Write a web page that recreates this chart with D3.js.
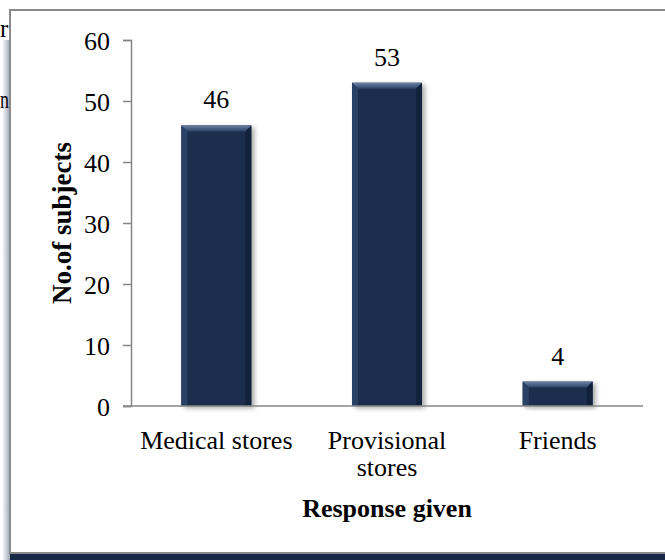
<!DOCTYPE html>
<html>
<head>
<meta charset="utf-8">
<script src="https://cdn.jsdelivr.net/npm/d3@7"></script>
<style>
  html, body { margin: 0; padding: 0; background: #fff; }
  svg { display: block; }
  text { font-family: "Liberation Serif", "Times New Roman", serif; fill: #000; }
</style>
</head>
<body>
<svg id="chart" width="665" height="560"></svg>
<script>
// Where subjects obtained the product
const categories = [["Medical stores"], ["Provisional", "stores"], ["Friends"]];
const counts = [46, 53, 4];
const yTicks = [0, 10, 20, 30, 40, 50, 60];
const yTitle = "No.of subjects";
const xTitle = "Response given";

const svg = d3.select("#chart");

const plot = { left: 131, right: 643, top: 40, bottom: 406 };

const x = d3.scaleBand()
  .domain(d3.range(categories.length))
  .range([plot.left, plot.right])
  .padding(0);
const barW = x.bandwidth() * 0.41;

const y = d3.scaleLinear().domain([0, 60]).range([plot.bottom, plot.top]);

const defs = svg.append("defs");
const sh = defs.append("filter").attr("id", "barShadow")
  .attr("x", "-20%").attr("y", "-10%").attr("width", "150%").attr("height", "130%");
sh.append("feDropShadow").attr("dx", 3).attr("dy", 2).attr("stdDeviation", 2.5)
  .attr("flood-color", "#000").attr("flood-opacity", 0.35);

const frameShadow = defs.append("linearGradient").attr("id", "leftShade")
  .attr("x1", 0).attr("x2", 1).attr("y1", 0).attr("y2", 0);
frameShadow.append("stop").attr("offset", 0).attr("stop-color", "#ffffff");
frameShadow.append("stop").attr("offset", 1).attr("stop-color", "#9aa6b8");

const topBevel = defs.append("linearGradient").attr("id", "topBevel")
  .attr("x1", 0).attr("x2", 0).attr("y1", 0).attr("y2", 1);
topBevel.append("stop").attr("offset", 0).attr("stop-color", "#6a82a3");
topBevel.append("stop").attr("offset", 1).attr("stop-color", "#2b4266");

// Frame
svg.append("rect").attr("x", 2).attr("y", 40).attr("width", 8).attr("height", 520)
  .attr("fill", "url(#leftShade)");
svg.append("rect").attr("x", 10).attr("y", 10).attr("width", 680).attr("height", 543)
  .attr("fill", "#fff").attr("stroke", "#8a8a8a").attr("stroke-width", 2);
svg.append("rect").attr("x", 10).attr("y", 554).attr("width", 660).attr("height", 6)
  .attr("fill", "#172a47");

// Text of the surrounding page that peeks out beside the frame
svg.append("text").attr("x", 0).attr("y", 37).attr("font-size", 25).text("r");
svg.append("text").attr("x", 0).attr("y", 108).attr("font-size", 25)
  .attr("textLength", 9).attr("lengthAdjust", "spacingAndGlyphs").text("n");

// Axes
const axisColor = "#868686";
const gy = svg.append("g").attr("transform", `translate(${plot.left},0)`)
  .call(d3.axisLeft(y).tickValues(yTicks).tickSize(8).tickPadding(13).tickFormat(d3.format("d")));
gy.select(".domain").attr("stroke", axisColor).attr("stroke-width", 1.5);
gy.selectAll(".tick line").attr("stroke", axisColor).attr("stroke-width", 1.5);
gy.selectAll(".tick text").attr("font-size", 26).attr("font-family", "Liberation Serif, serif")
  .attr("fill", "#000").attr("dy", "0.35em");

// Bars with bevelled edges
const bars = svg.append("g").selectAll("g").data(counts).join("g");
bars.each(function (v, i) {
  const g = d3.select(this);
  const x0 = x(i) + (x.bandwidth() - barW) / 2;
  const x1 = x0 + barW;
  const y0 = y(v);
  const y1 = y(0);
  const b = 6;
  g.append("rect").attr("x", x0).attr("y", y0).attr("width", barW).attr("height", y1 - y0)
    .attr("fill", "#1a2d4e").attr("filter", "url(#barShadow)");
  g.append("polygon")
    .attr("points", [[x0, y0], [x1, y0], [x1 - b, y0 + b], [x0 + b, y0 + b]].join(" "))
    .attr("fill", "url(#topBevel)");
  g.append("polygon")
    .attr("points", [[x0, y0], [x0 + b, y0 + b], [x0 + b, y1], [x0, y1]].join(" "))
    .attr("fill", "#2a4166");
  g.append("polygon")
    .attr("points", [[x1, y0], [x1 - b, y0 + b], [x1 - b, y1], [x1, y1]].join(" "))
    .attr("fill", "#12223d");
  g.append("text").attr("x", (x0 + x1) / 2).attr("y", y0 - 17)
    .attr("text-anchor", "middle").attr("font-size", 26).text(v);
});

// Baseline drawn over the bars
svg.append("line").attr("x1", plot.left - 8).attr("x2", plot.right)
  .attr("y1", plot.bottom).attr("y2", plot.bottom)
  .attr("stroke", axisColor).attr("stroke-width", 1.5);

// Category labels
categories.forEach((lines, i) => {
  const t = svg.append("text").attr("text-anchor", "middle").attr("font-size", 26)
    .attr("x", x(i) + x.bandwidth() / 2).attr("y", 449);
  lines.forEach((ln, k) => {
    t.append("tspan").attr("x", x(i) + x.bandwidth() / 2).attr("dy", k === 0 ? 0 : 27).text(ln);
  });
});

// Axis titles
svg.append("text").attr("x", (plot.left + plot.right) / 2).attr("y", 517)
  .attr("text-anchor", "middle").attr("font-size", 26).attr("font-weight", "bold").text(xTitle);
svg.append("text")
  .attr("transform", `translate(71,${(plot.top + plot.bottom) / 2}) rotate(-90)`)
  .attr("text-anchor", "middle").attr("font-size", 27).attr("font-weight", "bold").text(yTitle);
</script>
</body>
</html>
